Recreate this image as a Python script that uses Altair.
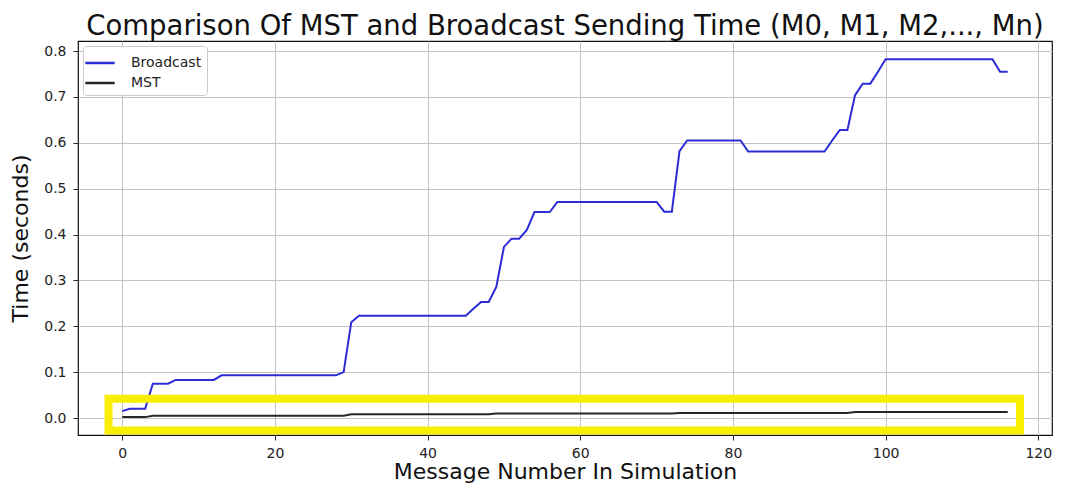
import altair as alt
import pandas as pd

# ---- data ----
message_number = list(range(117))

broadcast = [
    0.015, 0.020, 0.020, 0.020, 0.075, 0.075, 0.075, 0.083, 0.083, 0.083,   # 0-9
    0.083, 0.083, 0.083, 0.093, 0.093, 0.093, 0.093, 0.093, 0.093, 0.093,   # 10-19
    0.093, 0.093, 0.093, 0.093, 0.093, 0.093, 0.093, 0.093, 0.093, 0.100,   # 20-29
    0.209, 0.223, 0.223, 0.223, 0.223, 0.223, 0.223, 0.223, 0.223, 0.223,   # 30-39
    0.223, 0.223, 0.223, 0.223, 0.223, 0.223, 0.238, 0.253, 0.253, 0.286,   # 40-49
    0.373, 0.391, 0.391, 0.410, 0.449, 0.449, 0.449, 0.471, 0.471, 0.471,   # 50-59
    0.471, 0.471, 0.471, 0.471, 0.471, 0.471, 0.471, 0.471, 0.471, 0.471,   # 60-69
    0.471, 0.450, 0.450, 0.582, 0.605, 0.605, 0.605, 0.605, 0.605, 0.605,   # 70-79
    0.605, 0.605, 0.581, 0.581, 0.581, 0.581, 0.581, 0.581, 0.581, 0.581,   # 80-89
    0.581, 0.581, 0.581, 0.605, 0.628, 0.628, 0.704, 0.729, 0.729, 0.755,   # 90-99
    0.782, 0.782, 0.782, 0.782, 0.782, 0.782, 0.782, 0.782, 0.782, 0.782,   # 100-109
    0.782, 0.782, 0.782, 0.782, 0.782, 0.755, 0.755,                        # 110-116
]

mst = [
    0.002, 0.002, 0.002, 0.002, 0.005, 0.005, 0.005, 0.005, 0.005, 0.005,   # 0-9
    0.005, 0.005, 0.005, 0.005, 0.005, 0.005, 0.005, 0.005, 0.005, 0.005,   # 10-19
    0.005, 0.005, 0.005, 0.005, 0.005, 0.005, 0.005, 0.005, 0.005, 0.005,   # 20-29
    0.008, 0.008, 0.008, 0.008, 0.008, 0.008, 0.008, 0.008, 0.008, 0.008,   # 30-39
    0.008, 0.008, 0.008, 0.008, 0.008, 0.008, 0.008, 0.008, 0.008, 0.010,   # 40-49
    0.010, 0.010, 0.010, 0.010, 0.010, 0.010, 0.010, 0.010, 0.010, 0.010,   # 50-59
    0.010, 0.010, 0.010, 0.010, 0.010, 0.010, 0.010, 0.010, 0.010, 0.010,   # 60-69
    0.010, 0.010, 0.010, 0.011, 0.011, 0.011, 0.011, 0.011, 0.011, 0.011,   # 70-79
    0.011, 0.011, 0.011, 0.011, 0.011, 0.011, 0.011, 0.011, 0.011, 0.011,   # 80-89
    0.011, 0.011, 0.011, 0.011, 0.011, 0.011, 0.013, 0.013, 0.013, 0.013,   # 90-99
    0.013, 0.013, 0.013, 0.013, 0.013, 0.013, 0.013, 0.013, 0.013, 0.013,   # 100-109
    0.013, 0.013, 0.013, 0.013, 0.013, 0.013, 0.013,                        # 110-116
]

series_names = ["Broadcast", "MST"]
series_colors = ["#2c2cd6", "#262626"]

x_ticks = [0, 20, 40, 60, 80, 100, 120]
y_ticks = [0.0, 0.1, 0.2, 0.3, 0.4, 0.5, 0.6, 0.7, 0.8]

# highlight box (annotation, in data coordinates)
box_x = [-1.8, 117.6]
box_y = [-0.027, 0.042]

rows = []
for i, n in enumerate(message_number):
    rows.append({"n": n, "t": broadcast[i], "series": series_names[0]})
for i, n in enumerate(message_number):
    rows.append({"n": n, "t": mst[i], "series": series_names[1]})
df = pd.DataFrame(rows)

box_df = pd.DataFrame([{"x1": box_x[0], "x2": box_x[1], "y1": box_y[0], "y2": box_y[1]}])

FONT = "DejaVu Sans"

x_scale = alt.Scale(domain=[-5.8, 121.8], nice=False, zero=False)
y_scale = alt.Scale(domain=[-0.037, 0.822], nice=False, zero=False)

lines = alt.Chart(df).mark_line(strokeWidth=2).encode(
    x=alt.X("n:Q", scale=x_scale,
            axis=alt.Axis(values=x_ticks, title="Message Number In Simulation", format="d")),
    y=alt.Y("t:Q", scale=y_scale,
            axis=alt.Axis(values=y_ticks, title="Time (seconds)", format=".1f")),
    color=alt.Color("series:N",
                    scale=alt.Scale(domain=series_names, range=series_colors),
                    legend=alt.Legend(title=None, orient="none", legendX=5, legendY=5,
                                      symbolType="M-1.4,0L1.4,0", symbolStrokeWidth=2.5,
                                      symbolSize=440,
                                      labelFont=FONT, labelFontSize=14, labelColor="#222222",
                                      fillColor="white", strokeColor="#cccccc", cornerRadius=3,
                                      padding=5, rowPadding=1, labelOffset=19)),
    order=alt.Order("n:Q"),
)

box = alt.Chart(box_df).mark_rect(filled=False, stroke="#f8ee00", strokeWidth=8).encode(
    x=alt.X("x1:Q", scale=x_scale),
    x2="x2:Q",
    y=alt.Y("y1:Q", scale=y_scale),
    y2="y2:Q",
)

chart = alt.layer(lines, box).properties(
    width=974,
    height=394,
    title=alt.TitleParams("Comparison Of MST and Broadcast Sending Time (M0, M1, M2,..., Mn)",
                          font=FONT, fontSize=27.5, fontWeight="normal", color="#111111",
                          anchor="middle", offset=1),
    autosize=alt.AutoSizeParams(type="none"),
    padding={"left": 70, "top": 33, "right": 15, "bottom": 50},
).configure_view(
    stroke="#111111", strokeWidth=1.2
).configure_axis(
    grid=True, gridColor="#c4c4c4", gridWidth=1,
    domain=False, ticks=True, tickColor="#222222", tickSize=5,
    labelFont=FONT, labelFontSize=14, labelColor="#222222",
    titleFont=FONT, titleFontSize=22, titleFontWeight="normal", titleColor="#111111",
).configure_axisX(
    labelPadding=6, titlePadding=1
).configure_axisY(
    labelPadding=7, titlePadding=11
)

chart.save("out.html", embed_options={"renderer": "svg", "actions": False})
